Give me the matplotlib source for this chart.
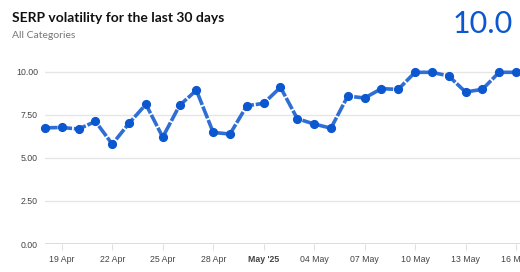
import matplotlib.pyplot as plt
import matplotlib.dates as mdates
import numpy as np

# Données
dates = np.arange('2025-04-18', '2025-05-17', dtype='datetime64[D]')
volatilite = [6.74, 6.76, 6.67, 7.11, 5.79, 7.01, 8.10, 6.20, 8.04, 8.92,
              6.47, 6.38, 8.02, 8.16, 9.09, 7.27, 6.96, 6.72, 8.58, 8.47,
              9.01, 8.97, 9.96, 9.96, 9.75, 8.82, 8.97, 9.96, 9.96]
tick_dates = ['2025-04-19', '2025-04-22', '2025-04-25', '2025-04-28', '2025-05-01',
              '2025-05-04', '2025-05-07', '2025-05-10', '2025-05-13', '2025-05-16']
tick_labels = ['19 Apr', '22 Apr', '25 Apr', '28 Apr', "May '25",
               '04 May', '07 May', '10 May', '13 May', '16 May']
y_ticks = [0, 2.5, 5, 7.5, 10]
valeur_actuelle = '10.0'

x = mdates.date2num(dates.astype('datetime64[s]').astype(object))
xt = mdates.date2num(np.array(tick_dates, dtype='datetime64[s]').astype(object))

fig = plt.figure(figsize=(5.2, 2.72), dpi=100)
ax = fig.add_axes([45 / 520, 28 / 272, 1 - 45 / 520, (244 - 63) / 272])

ax.plot(x, volatilite, color='#2f6fd3', lw=2.6, linestyle=(0, (3.5, 0.5)),
        solid_capstyle='butt', zorder=3, clip_on=False)
ax.plot(x, volatilite, 'o', color='#0b57d0', ms=5.6, mec='#0b57d0', zorder=4, clip_on=False)

ax.set_xlim(x[0], x[0] + 28.24)
ax.set_ylim(0, 10.5)
ax.set_yticks(y_ticks)
ax.set_yticklabels(['%.2f' % v for v in y_ticks])
ax.set_xticks(xt)
ax.set_xticklabels(tick_labels)
for lab in ax.get_xticklabels():
    if "'" in lab.get_text():
        lab.set_fontweight('bold')
        lab.set_color('#222222')

ax.grid(axis='y', color='#e6e6e6', lw=1)
ax.axhline(0, color='#d6d6d6', lw=1.2, zorder=2)
for s in ax.spines.values():
    s.set_visible(False)
ax.tick_params(axis='y', length=0, pad=5, labelsize=6.3, labelcolor='#444444')
ax.tick_params(axis='x', length=4, color='#e0e0e0', pad=4, labelsize=6.3, labelcolor='#444444')
for lab in ax.get_xticklabels() + ax.get_yticklabels():
    lab.set_family('Liberation Sans')

# Titres
fig.text(12 / 520, 1 - 18 / 272, 'SERP volatility for the last 30 days', fontsize=10,
         fontweight='bold', family='Lato', color='#111111', va='center')
fig.text(12 / 520, 1 - 35 / 272, 'All Categories', fontsize=7.5, family='Lato',
         color='#777777', va='center')
fig.text(513 / 520, 1 - 24 / 272, valeur_actuelle, fontsize=22, family='Lato',
         color='#0b57d0', ha='right', va='center')

fig.savefig('out.png', dpi=100)
